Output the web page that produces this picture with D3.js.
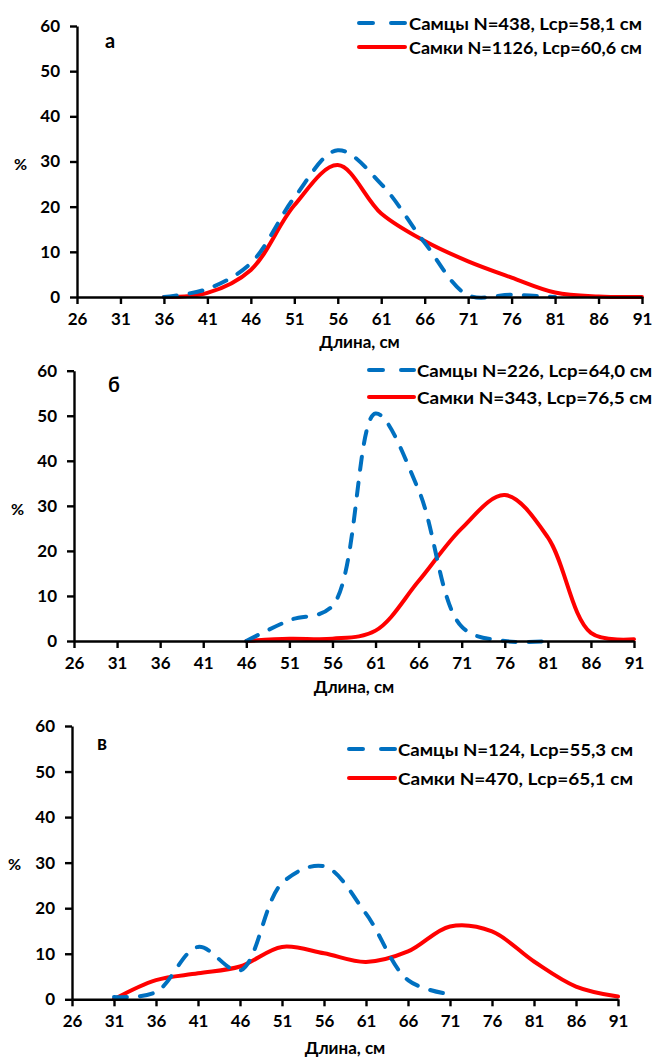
<!DOCTYPE html>
<html lang="ru">
<head>
<meta charset="UTF-8">
<title>Размерный состав</title>
<script src="https://d3js.org/d3.v7.min.js"></script>
<style>
    body { margin: 0; background: #fff; }
    svg { display: block; font-family: Lato, "Open Sans", sans-serif; font-weight: bold; }
    .axis path, .axis line { stroke: #000; stroke-width: 2.4; }
    .axis text { font-size: 17px; font-weight: bold; fill: #000; font-family: Lato, sans-serif; }
</style>
</head>
<body>
<svg id="chart" width="654" height="1057"></svg>
<script>
    // Tick labels
    const xTicks = [26, 31, 36, 41, 46, 51, 56, 61, 66, 71, 76, 81, 86, 91];
    const yTicks = [0, 10, 20, 30, 40, 50, 60];

    // Panel a
    const maleLenA = [36, 41, 46, 51, 56, 61, 66, 71, 76, 81];
    const maleA = [0, 1.8, 7.5, 22, 32.5, 25, 12, 0.4, 0.5, 0];
    const femaleLenA = [36, 41, 46, 51, 56, 61, 66, 71, 76, 81, 86, 91];
    const femaleA = [0, 0.9, 6, 20.3, 29.2, 18.5, 12.4, 7.9, 4.3, 1, 0.1, 0];

    // Panel b
    const maleLenB = [46, 51, 56, 61, 66, 71, 76, 81];
    const maleB = [0, 4.6, 7.8, 50.5, 33.5, 3.2, 0, 0];
    const femaleLenB = [46, 51, 56, 61, 66, 71, 76, 81, 86, 91];
    const femaleB = [0, 0.5, 0.5, 2.3, 13.3, 25, 32.4, 23, 1.8, 0.4];

    // Panel c
    const maleLenC = [31, 36, 41, 46, 51, 56, 61, 66, 71];
    const maleC = [0.5, 1.6, 11.5, 6.3, 25.5, 29.2, 18.8, 4.2, 1.1];
    const femaleLenC = [31, 36, 41, 46, 51, 56, 61, 66, 71, 76, 81, 86, 91];
    const femaleC = [0, 4.2, 5.7, 7.2, 11.5, 10.1, 8.2, 10.5, 16, 14.9, 8.3, 2.8, 0.6];

    const panels = [
        {
            letter: 'а', left: 77, right: 642, top: 26, bottom: 297,
            male: { len: maleLenA, val: maleA, label: 'Самцы N=438, Lср=58,1 см' },
            female: { len: femaleLenA, val: femaleA, label: 'Самки N=1126, Lср=60,6 см' },
            legend: { x1: 359, x2: 405, tx: 409, y1: 23, y2: 47, w: 233 },
            letterPos: [105, 48], pctPos: [14, 163], xlabY: 341
        },
        {
            letter: 'б', left: 74, right: 634, top: 370.7, bottom: 641,
            male: { len: maleLenB, val: maleB, label: 'Самцы N=226, Lср=64,0 см' },
            female: { len: femaleLenB, val: femaleB, label: 'Самки N=343, Lср=76,5 см' },
            legend: { x1: 369, x2: 414, tx: 417, y1: 370, y2: 397, w: 235 },
            letterPos: [108, 392], pctPos: [11, 508], xlabY: 686
        },
        {
            letter: 'в', left: 72, right: 618, top: 726, bottom: 999.3,
            male: { len: maleLenC, val: maleC, label: 'Самцы N=124, Lср=55,3 см' },
            female: { len: femaleLenC, val: femaleC, label: 'Самки N=470, Lср=65,1 см' },
            legend: { x1: 349, x2: 395, tx: 398, y1: 749, y2: 778, w: 235 },
            letterPos: [97, 750], pctPos: [8, 863], xlabY: 1047
        }
    ];

    const svg = d3.select('#chart');
    const maleColor = '#0070C0', femaleColor = '#FF0000';

    panels.forEach(p => {
        const x = d3.scaleLinear().domain([26, 91]).range([p.left, p.right]);
        const y = d3.scaleLinear().domain([0, 60]).range([p.bottom, p.top]);
        const g = svg.append('g');

        const line = d3.line()
            .x(d => x(d[0]))
            .y(d => y(d[1]))
            .curve(d3.curveCatmullRom.alpha(0.5));

        g.append('path')
            .datum(p.female.len.map((l, i) => [l, p.female.val[i]]))
            .attr('d', line)
            .attr('fill', 'none')
            .attr('stroke', femaleColor)
            .attr('stroke-width', 4)
            .attr('stroke-linecap', 'round');

        g.append('path')
            .datum(p.male.len.map((l, i) => [l, p.male.val[i]]))
            .attr('d', line)
            .attr('fill', 'none')
            .attr('stroke', maleColor)
            .attr('stroke-width', 4)
            .attr('stroke-linecap', 'round')
            .attr('stroke-dasharray', '13,13');

        g.append('g')
            .attr('class', 'axis')
            .attr('transform', `translate(${p.left},0)`)
            .call(d3.axisLeft(y).tickValues(yTicks).tickSize(7).tickSizeOuter(0).tickPadding(10));

        g.append('g')
            .attr('class', 'axis')
            .attr('transform', `translate(0,${p.bottom})`)
            .call(d3.axisBottom(x).tickValues(xTicks).tickSize(7).tickSizeOuter(0).tickPadding(9));

        g.append('text')
            .attr('x', (p.left + p.right) / 2)
            .attr('y', p.xlabY)
            .attr('text-anchor', 'middle')
            .attr('dominant-baseline', 'central')
            .attr('font-size', 17)
            .text('Длина, см');

        g.append('text')
            .attr('x', p.pctPos[0])
            .attr('y', p.pctPos[1])
            .attr('dominant-baseline', 'central')
            .attr('font-size', 16)
            .text('%');

        g.append('text')
            .attr('x', p.letterPos[0])
            .attr('y', p.letterPos[1])
            .attr('font-size', 20)
            .text(p.letter);

        // legend
        const lg = p.legend;
        [[p.male, lg.y1, true], [p.female, lg.y2, false]].forEach(([s, ly, dashed]) => {
            g.append('line')
                .attr('x1', lg.x1).attr('x2', lg.x2)
                .attr('y1', ly).attr('y2', ly)
                .attr('stroke', dashed ? maleColor : femaleColor)
                .attr('stroke-width', 4)
                .attr('stroke-linecap', 'round')
                .attr('stroke-dasharray', dashed ? '14,18' : null);
            g.append('text')
                .attr('x', lg.tx)
                .attr('y', ly)
                .attr('dominant-baseline', 'central')
                .attr('font-size', 17)
                .attr('textLength', lg.w)
                .attr('lengthAdjust', 'spacingAndGlyphs')
                .text(s.label);
        });
    });
</script>
</body>
</html>
